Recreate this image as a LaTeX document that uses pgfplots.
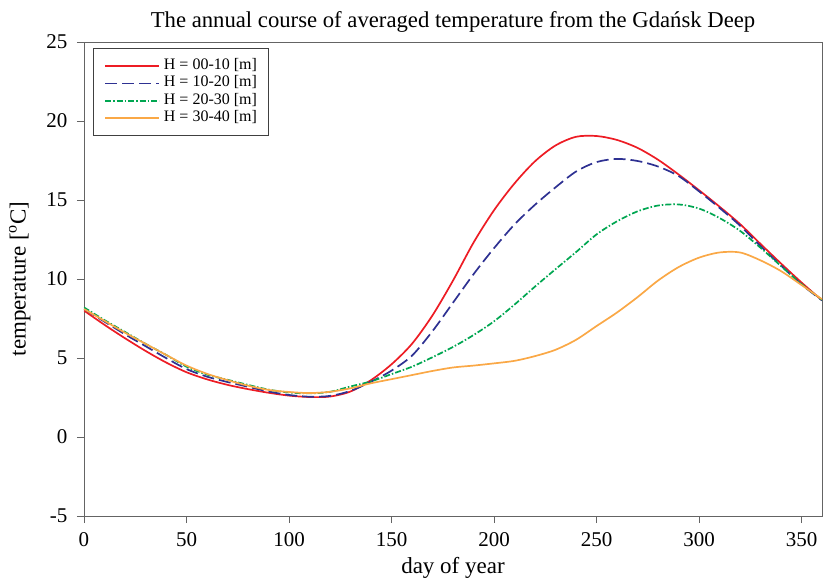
\documentclass[border=0pt]{standalone}
\usepackage{pgfplots}
\pgfplotsset{compat=1.18}
\usepackage{pgfplotstable}
\usepackage{fontspec}
\setmainfont{Liberation Serif}

\definecolor{cRed}{RGB}{237,28,36}
\definecolor{cBlue}{RGB}{46,49,146}
\definecolor{cGreen}{RGB}{0,166,81}
\definecolor{cOrange}{RGB}{250,168,70}
\definecolor{axgray}{RGB}{100,100,100}

% averaged temperature
\pgfplotstableread{
day red blue green orange
0   8.00  8.10  8.20  8.10
10  7.10  7.30  7.40  7.35
20  6.25  6.50  6.65  6.60
30  5.45  5.75  5.90  5.90
40  4.72  5.00  5.20  5.20
50  4.10  4.30  4.45  4.52
60  3.65  3.82  3.95  4.00
70  3.30  3.48  3.62  3.60
80  3.03  3.18  3.30  3.25
90  2.80  2.88  3.00  2.98
100 2.62  2.66  2.82  2.85
110 2.53  2.55  2.76  2.78
120 2.56  2.60  2.86  2.86
130 2.88  2.92  3.20  3.08
140 3.60  3.50  3.52  3.40
150 4.60  4.20  3.98  3.66
160 5.90  5.15  4.45  3.92
170 7.70  6.70  5.05  4.18
180 9.90  8.50  5.70  4.40
190 12.30 10.30 6.45  4.52
200 14.35 11.95 7.32  4.66
210 16.05 13.45 8.38  4.82
220 17.45 14.70 9.52  5.12
230 18.45 15.80 10.62 5.52
240 19.00 16.80 11.70 6.15
250 19.05 17.40 12.82 7.02
260 18.80 17.60 13.65 7.88
270 18.30 17.47 14.28 8.85
280 17.55 17.12 14.65 9.90
290 16.62 16.52 14.72 10.75
300 15.62 15.55 14.46 11.35
310 14.58 14.50 13.86 11.68
320 13.48 13.38 13.05 11.68
330 12.22 12.08 11.98 11.18
340 10.98 10.85 10.82 10.50
350 9.78  9.65  9.68  9.62
360 8.65  8.65  8.68  8.72
}\temps

\begin{document}
\begin{tikzpicture}
\begin{axis}[
    name=ax,
    scale only axis,
    width=738pt, height=474pt,
    xmin=0, xmax=360, ymin=-5, ymax=25,
    xtick={0,50,...,350},
    xticklabels={0,50,100,150,200,250,300,350},
    ytick={-5,0,...,25},
    yticklabels={-5,0,5,10,15,20,25},
    tick pos=left,
    tick align=outside,
    major tick length=7pt,
    axis line style={axgray, line width=0.9pt},
    every tick/.style={axgray, line width=0.9pt},
    ticklabel style={font=\fontsize{21}{21}\selectfont},
    xticklabel style={yshift=-6pt},
    yticklabel style={xshift=-6pt},
    title={The annual course of averaged temperature from the Gdańsk Deep},
    title style={font=\fontsize{22.7}{22.7}\selectfont, anchor=base, yshift=8pt},
    xlabel={day of year},
    ylabel={temperature [\textsuperscript{o}C]},
    label style={font=\fontsize{23}{23}\selectfont},
    xlabel style={yshift=-4pt},
    ylabel style={yshift=9pt},
    legend cell align=left,
    legend style={at={(0.012,0.987)}, anchor=north west,
        draw=black!75, line width=0.8pt,
        font=\fontsize{16}{16}\selectfont,
        nodes={inner sep=0pt, text height=11pt, text depth=4pt},
        row sep=2.4pt, inner xsep=11pt, inner ysep=10pt,
        /tikz/every odd column/.append style={column sep=4pt}},
    legend image code/.code={\draw[#1] (0pt,0pt) -- (54pt,0pt);},
    every axis plot/.append style={line width=1.7pt, smooth},
]
\addplot[cRed] table[x=day, y=red] {\temps};
\addlegendentry{H = 00-10 [m]}
\addplot[cBlue, dash pattern=on 12pt off 5pt] table[x=day, y=blue] {\temps};
\addlegendentry{H = 10-20 [m]}
\addplot[cGreen, dash pattern=on 6pt off 2pt on 1.5pt off 2pt] table[x=day, y=green] {\temps};
\addlegendentry{H = 20-30 [m]}
\addplot[cOrange] table[x=day, y=orange] {\temps};
\addlegendentry{H = 30-40 [m]}
\end{axis}
\pgfresetboundingbox
\path[use as bounding box] ([shift={(-84pt,-62pt)}]ax.south west) rectangle ([shift={(1pt,42pt)}]ax.north east);
\end{tikzpicture}
\end{document}
